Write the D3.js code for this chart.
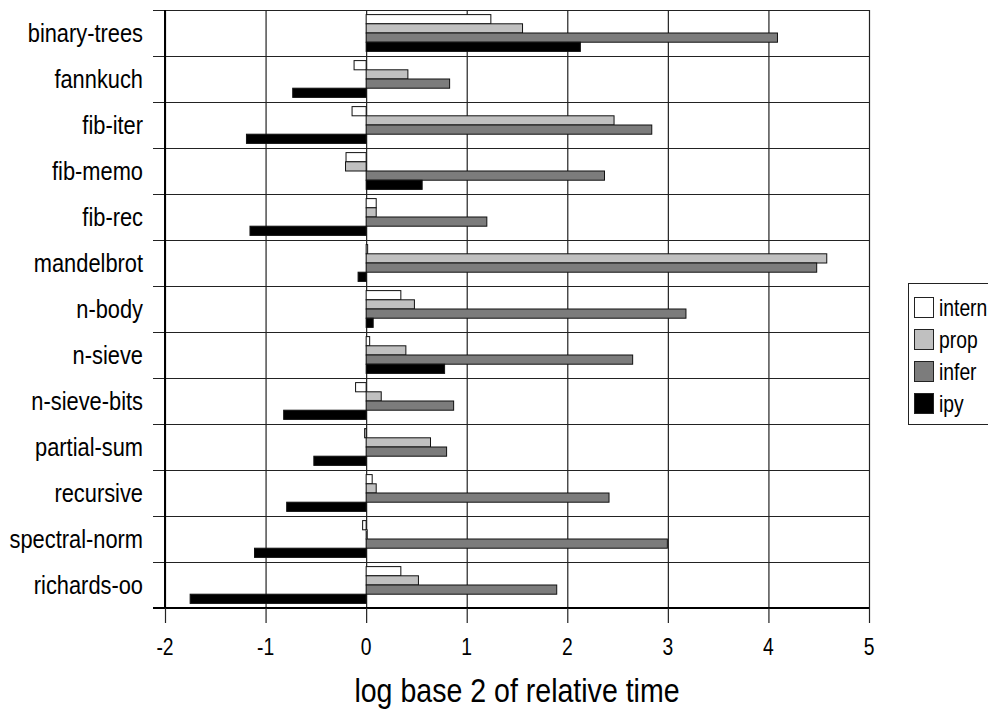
<!DOCTYPE html>
<html><head><meta charset="utf-8">
<script src="https://cdn.jsdelivr.net/npm/d3@7"></script>
<style>body{margin:0;background:#fff}svg{display:block}text{font-family:"Liberation Sans",Arial,sans-serif;fill:#000}</style>
</head><body><svg id="c" width="988" height="713"></svg>
<script>
const categories = ["binary-trees","fannkuch","fib-iter","fib-memo","fib-rec","mandelbrot","n-body","n-sieve","n-sieve-bits","partial-sum","recursive","spectral-norm","richards-oo"];
const seriesNames = ["intern","prop","infer","ipy"];
const intern = [1.24,-0.12,-0.14,-0.20,0.10,0.015,0.345,0.035,-0.105,-0.015,0.06,-0.035,0.345];
const prop   = [1.555,0.415,2.465,-0.205,0.10,4.58,0.48,0.395,0.15,0.64,0.10,0.01,0.52];
const infer  = [4.09,0.83,2.84,2.37,1.20,4.48,3.18,2.65,0.87,0.80,2.415,2.995,1.895];
const ipy    = [2.13,-0.73,-1.19,0.557,-1.155,-0.08,0.07,0.78,-0.82,-0.52,-0.79,-1.11,-1.75];
const xTicks = [-2,-1,0,1,2,3,4,5];
const colors = ["#ffffff","#c0c0c0","#7c7c7c","#000000"];
const values = [intern, prop, infer, ipy];

const svg = d3.select("#c");
const L=165,R=869,T=10,B=608;
const NARROW = 0.84;
function ntext(sel, x, y, size, anchor, str){
  const gg = sel.append("g").attr("transform",`translate(${x},${y}) scale(${NARROW},1)`);
  gg.append("text").attr("text-anchor",anchor).style("font-size",size+"px").text(str);
  return gg;
}
const x = d3.scaleLinear().domain([-2,5]).range([L,R]);
const yb = d3.scaleBand().domain(categories).range([T,B]);

// vertical gridlines
svg.append("g").selectAll("line").data(xTicks).join("line")
  .attr("x1",d=>x(d)+0.5).attr("x2",d=>x(d)+0.5).attr("y1",T).attr("y2",B)
  .attr("stroke","#222").attr("stroke-width",1.2);
// horizontal gridlines at band boundaries, with ticks to left
const bounds = categories.map(c=>yb(c)).concat([B]);
svg.append("g").selectAll("line").data(bounds).join("line")
  .attr("x1",L-12).attr("x2",R).attr("y1",d=>Math.round(d)+0.5).attr("y2",d=>Math.round(d)+0.5)
  .attr("stroke","#222").attr("stroke-width",1.2);

// bars
const g = svg.append("g");
categories.forEach((c,i)=>{
  const yb0 = yb(c) + yb.bandwidth()*0.1;
  const sub = d3.scaleBand().domain(seriesNames).range([yb0, yb0 + yb.bandwidth()*0.8]);
  seriesNames.forEach((s,j)=>{
    const v = values[j][i];
    g.append("rect")
      .attr("x", x(Math.min(0,v))).attr("width", Math.abs(x(v)-x(0)))
      .attr("y", sub(s)).attr("height", sub.bandwidth())
      .attr("fill", colors[j]).attr("stroke","#111").attr("stroke-width",1);
  });
});

// frame
svg.append("line").attr("x1",L).attr("x2",L).attr("y1",T).attr("y2",B+1).attr("stroke","#000").attr("stroke-width",2);
svg.append("line").attr("x1",L-12).attr("x2",R).attr("y1",B).attr("y2",B).attr("stroke","#000").attr("stroke-width",2);

// x axis ticks
svg.append("g").selectAll("line").data(xTicks).join("line")
  .attr("x1",d=>x(d)+0.5).attr("x2",d=>x(d)+0.5).attr("y1",B).attr("y2",B+15)
  .attr("stroke","#222").attr("stroke-width",1.2);
const tl = svg.append("g");
xTicks.forEach(d=>ntext(tl, x(d), 655, 23, "middle", d));
ntext(svg, (L+R)/2, 702, 34, "middle", "log base 2 of relative time");

// category labels
const cl = svg.append("g");
categories.forEach(d=>ntext(cl, 143, yb(d)+yb.bandwidth()/2+9, 26, "end", d));

// legend
const lg = svg.append("g");
lg.append("rect").attr("x",908.5).attr("y",283.5).attr("width",90).attr("height",141)
  .attr("fill","#fff").attr("stroke","#222").attr("stroke-width",1);
seriesNames.forEach((s,j)=>{
  const cy = 308 + j*32;
  lg.append("rect").attr("x",914.5).attr("y",cy-10.5).attr("width",19).attr("height",20)
    .attr("fill",colors[j]).attr("stroke","#222");
  ntext(lg, 939, cy+8, 23, "start", s);
});
</script></body></html>
